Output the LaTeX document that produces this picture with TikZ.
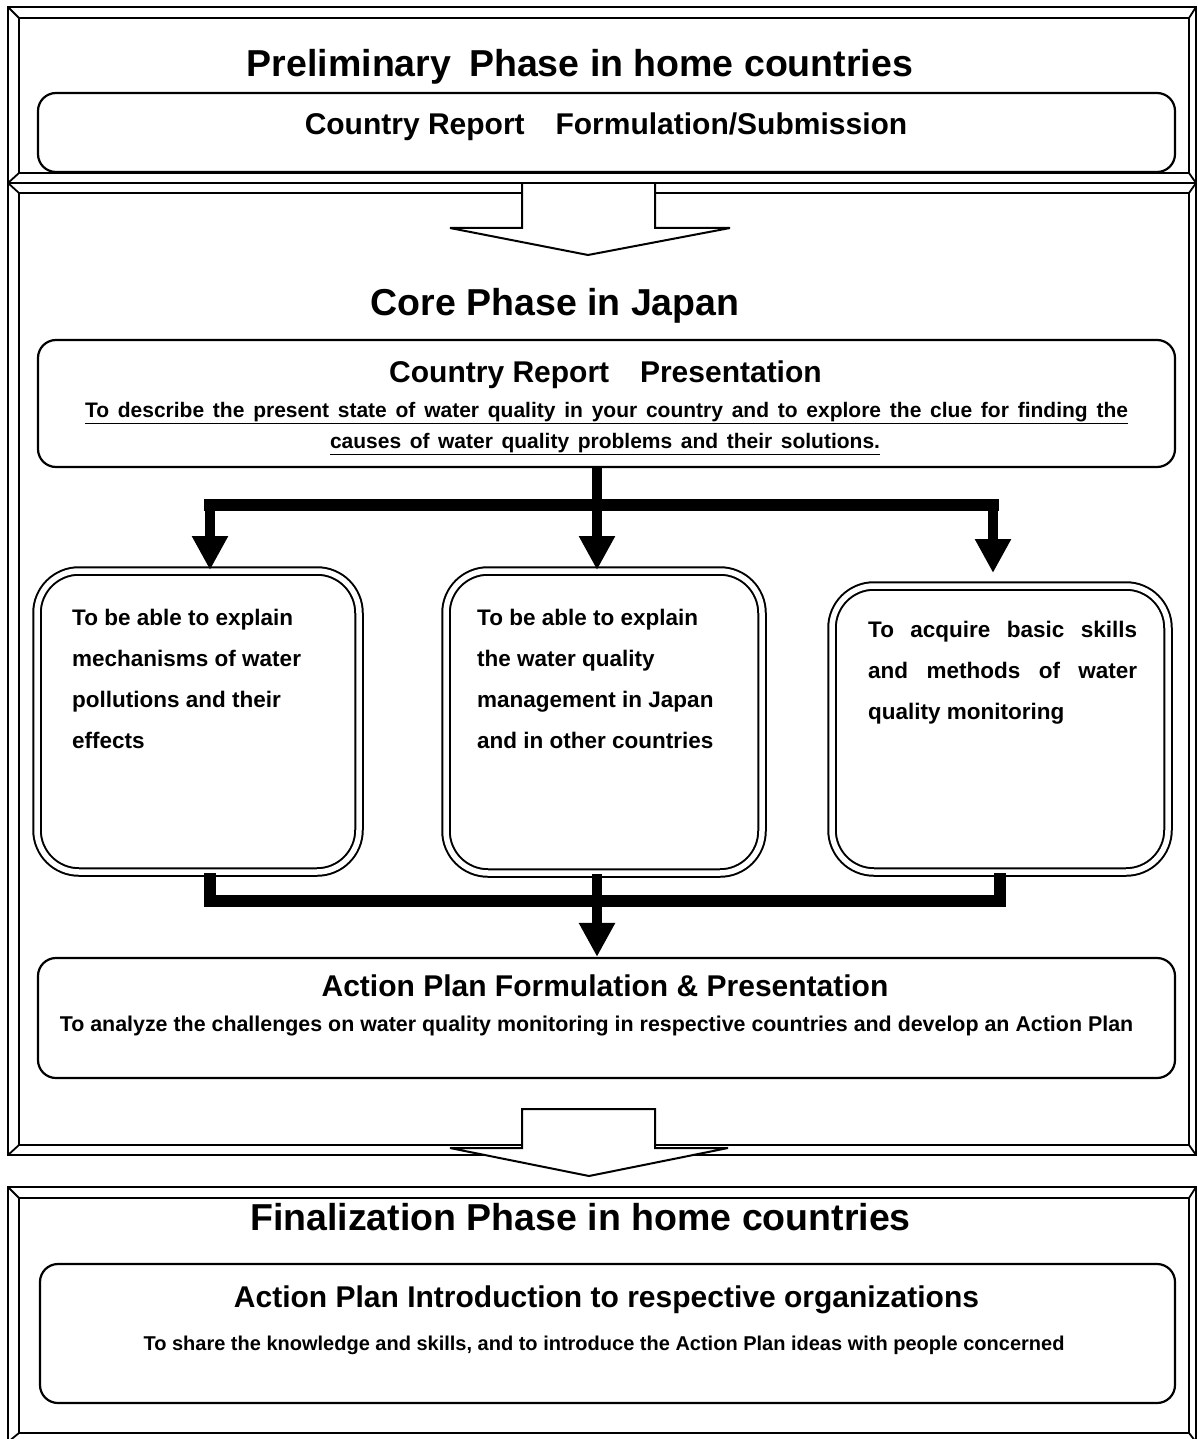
\documentclass[tikz,border=0pt]{standalone}
\usepackage{fontspec}
\setmainfont{Liberation Sans}
\usetikzlibrary{arrows.meta,calc}
\newcommand{\bevframe}[8]{%
  \draw[frameline] (#1,#2) rectangle (#3,#4);
  \draw[frameline] (#5,#6) rectangle (#7,#8);
  \draw[frameline] (#1,#2) -- (#5,#6) (#3,#2) -- (#7,#6) (#1,#4) -- (#5,#8) (#3,#4) -- (#7,#8);
}
\tikzset{
  frameline/.style={line width=1.8pt},
  roundbox/.style={draw, line width=2.2pt, rounded corners=18pt, inner sep=0pt},
  dblbox/.style={draw, line width=2pt, double, double distance=5.5pt, rounded corners=42pt, inner sep=0pt},
  titletext/.style={font=\fontsize{37.5}{44}\selectfont\bfseries, anchor=base, inner sep=0pt},
  headtext/.style={font=\fontsize{30}{36}\selectfont\bfseries, anchor=base, inner sep=0pt},
  subtext/.style={font=\fontsize{21}{25}\selectfont\bfseries, anchor=base, inner sep=0pt},
  widetext/.style={font=\fontsize{21.4}{25}\selectfont\bfseries, anchor=base, inner sep=0pt},
  smalltext/.style={font=\fontsize{20}{24}\selectfont\bfseries, anchor=base, inner sep=0pt},
  boxtext/.style={font=\fontsize{22.5}{41}\selectfont\bfseries, anchor=north west, inner sep=0pt, align=left},
  bar/.style={line width=12pt},
  arr/.style={line width=10pt, -{Triangle[length=34pt,width=34pt]}},
  blockarrow/.style={line width=2pt, line join=miter},
}
\begin{document}
\begin{tikzpicture}[x=1pt,y=-1pt]
\useasboundingbox (0,0) rectangle (1197,1439);
\fill[white] (0,0) rectangle (1197,1439);

% phase frames
\bevframe{8}{7}{1196}{183}{19}{18}{1189}{173}
\bevframe{8}{183}{1196}{1155}{19}{193}{1189}{1145}
\bevframe{8}{1187}{1196}{1442}{19}{1198}{1189}{1433}

% block arrows between phases
\fill[white] (522,185) -- (522,228) -- (450,228) -- (588,255) -- (730,228) -- (655,228) -- (655,185) -- cycle;
\draw[blockarrow] (522,184) -- (522,228) -- (450,228) -- (588,255) -- (730,228) -- (655,228) -- (655,184);
\filldraw[blockarrow, fill=white] (522,1109) -- (655,1109) -- (655,1148) -- (728,1148) -- (589,1176) -- (450,1148) -- (522,1148) -- cycle;

% preliminary phase
\node[titletext] (t1) at (580,77) {Preliminary\hspace{0.2em} Phase in home countries};
\node[roundbox, minimum width=1137pt, minimum height=79pt] (rep1) at (606.5,132.5) {};
\node[headtext] (rep1t) at (606,135) {Country Report\hspace{0.75em} Formulation/Submission};

% core phase
\node[titletext] (t2) at (555,315) {Core Phase in Japan};
\node[roundbox, minimum width=1137pt, minimum height=127pt] (rep2) at (606.5,403.5) {};
\node[headtext] (rep2t) at (605.5,382) {Country Report\hspace{0.75em} Presentation};
\node[subtext] (rep2a) at (606.5,417) {\underline{\makebox[1043pt][s]{To describe the present state of water quality in your country and to explore the clue for finding the}}};
\node[subtext] (rep2b) at (605,448) {\underline{\makebox[550pt][s]{causes of water quality problems and their solutions.}}};

\node[dblbox, minimum width=322pt, minimum height=301pt] (boxA) at (198,721.5) {};
\node[dblbox, minimum width=316pt, minimum height=302pt] (boxB) at (604,722) {};
\node[dblbox, minimum width=336pt, minimum height=286pt] (boxC) at (1000,729) {};
\node[boxtext] (boxAt) at (72,609) {To be able to explain\\mechanisms of water\\pollutions and their\\effects};
\node[boxtext] (boxBt) at (477,609) {To be able to explain\\the water quality\\management in Japan\\and in other countries};
\node[boxtext] (boxCt) at (868,621) {\makebox[269pt][s]{To acquire basic skills}\\\makebox[269pt][s]{and methods of water}\\quality monitoring};

\node[roundbox, minimum width=1137pt, minimum height=120pt] (ap1) at (606.5,1018) {};
\node[headtext] (ap1t) at (605,996) {Action Plan Formulation \& Presentation};
\node[widetext] (ap1s) at (596.5,1031) {To analyze the challenges on water quality monitoring in respective countries and develop an Action Plan};

% connectors top
\coordinate (tl) at (210,505);
\coordinate (tm) at (597,505);
\coordinate (tr) at (993,505);
\draw[bar] ([xshift=-6pt]tl) -- ([xshift=6pt]tr);
\draw[arr] (rep2.south -| tm) -- (tm |- boxB.north);
\draw[arr] (tl) -- (tl |- boxA.north);
\draw[arr] (tr) -- ([yshift=12pt]tr |- boxC.north);

% connectors bottom
\coordinate (bl) at (210,901);
\coordinate (bm) at (597,901);
\coordinate (br) at (1000,901);
\draw[bar, line join=miter] (boxA.south -| bl) -- (bl) -- (br) -- (boxC.south -| br);
\draw[arr] (boxB.south -| bm) -- (bm |- ap1.north);

% finalization phase
\node[titletext] (t3) at (580.5,1230) {Finalization Phase in home countries};
\node[roundbox, minimum width=1135pt, minimum height=139pt] (ap2) at (607.5,1333.5) {};
\node[headtext] (ap2t) at (606.5,1307) {Action Plan Introduction to respective organizations};
\node[smalltext] (ap2s) at (604,1350) {To share the knowledge and skills, and to introduce the Action Plan ideas with people concerned};
\end{tikzpicture}
\end{document}
